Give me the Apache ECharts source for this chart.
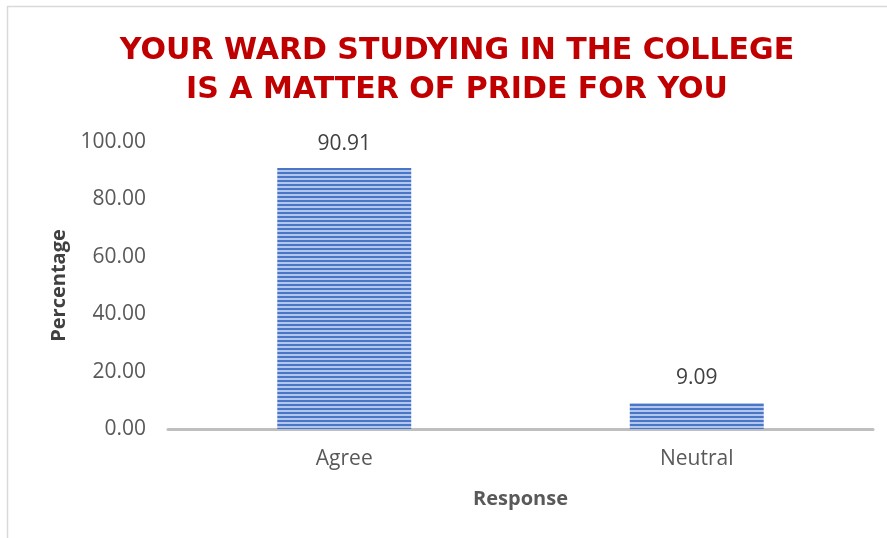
<!DOCTYPE html>
<html>
<head>
<meta charset="utf-8">
<script src="https://cdn.jsdelivr.net/npm/echarts@6/dist/echarts.min.js"></script>
<style>html,body{margin:0;padding:0;background:#fff;}#c{width:887px;height:538px;}</style>
</head>
<body>
<div id="c"></div>
<script>
const titleText = "YOUR WARD STUDYING IN THE COLLEGE\nIS A MATTER OF PRIDE FOR YOU";
const categories = ["Agree", "Neutral"];
const percentages = [90.91, 9.09];
const yTicks = [0, 20, 40, 60, 80, 100];
const xAxisName = "Response";
const yAxisName = "Percentage";

function stripe() {
  const c = document.createElement('canvas');
  c.width = 4; c.height = 4;
  const ctx = c.getContext('2d');
  ctx.fillStyle = '#B3C6EC'; ctx.fillRect(0, 0, 4, 4);
  ctx.fillStyle = '#4A76C8'; ctx.fillRect(0, 0, 4, 2);
  return c;
}

const chart = echarts.init(document.getElementById('c'), null, {renderer: 'canvas'});
chart.setOption({
  animation: false,
  backgroundColor: '#fff',
  title: {
    text: titleText,
    left: 452, top: 27, textAlign: 'center',
    textStyle: {color: '#C00000', fontFamily: 'DejaVu Sans', fontWeight: 'bold', fontSize: 30, lineHeight: 39}
  },
  graphic: [{
    type: 'rect', silent: true, z: -1,
    shape: {x: 7.5, y: 6.5, width: 1000, height: 700},
    style: {fill: null, stroke: '#D9D9D9', lineWidth: 1.5}
  }],
  grid: {left: 168, right: 14, top: 142, bottom: 109},
  xAxis: {
    type: 'category', data: categories,
    name: xAxisName, nameLocation: 'middle', nameGap: 60,
    nameTextStyle: {color: '#595959', fontFamily: 'Open Sans', fontWeight: 'bold', fontSize: 20},
    axisLine: {lineStyle: {color: '#BFBFBF', width: 3}},
    axisTick: {show: false},
    axisLabel: {color: '#595959', fontFamily: 'Open Sans', fontSize: 21, margin: 20}
  },
  yAxis: {
    type: 'value', min: 0, max: 100, interval: 20,
    name: yAxisName, nameLocation: 'middle', nameGap: 98,
    nameTextStyle: {color: '#404040', fontFamily: 'Open Sans', fontWeight: 'bold', fontSize: 20},
    axisLine: {show: false}, axisTick: {show: false}, splitLine: {show: false},
    axisLabel: {color: '#595959', fontFamily: 'Open Sans', fontSize: 21, margin: 22,
      formatter: v => yTicks.includes(v) ? v.toFixed(2) : ''}
  },
  series: [{
    type: 'bar', data: percentages, barWidth: '38%',
    itemStyle: {color: {image: stripe(), repeat: 'repeat'}},
    label: {show: true, position: 'top', distance: 14, color: '#404040', fontFamily: 'Open Sans', fontSize: 21,
      formatter: p => p.value.toFixed(2)}
  }]
});
</script>
</body>
</html>
